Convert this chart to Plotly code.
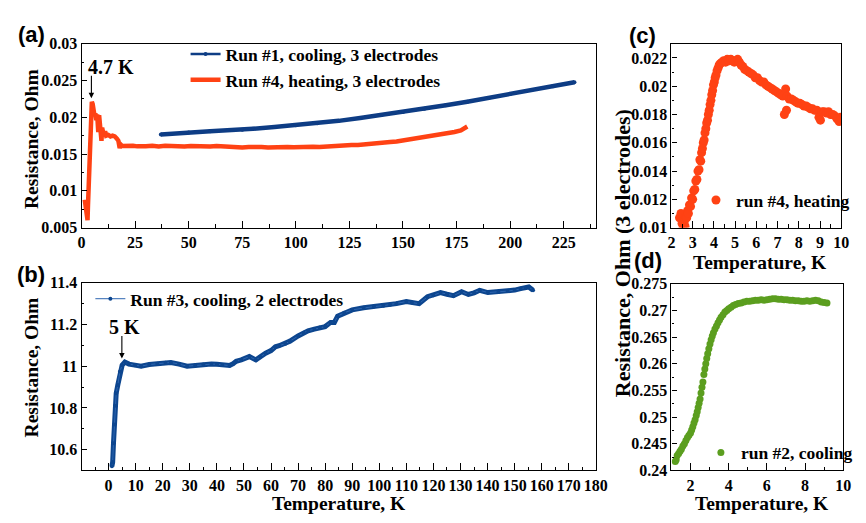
import plotly.graph_objects as go

W, H = 866, 523

# ---------------- data ----------------
# Panel (a): Run #1 cooling, 3 electrodes
run1_T = [37, 40, 50, 60, 70, 75, 80, 90, 100, 110, 120, 130, 140, 150, 160, 170, 180, 190, 200, 210, 220, 230]
run1_R = [0.01765, 0.01772, 0.01795, 0.01812, 0.01826, 0.01832, 0.01845, 0.01868, 0.01893, 0.01920, 0.01952,
          0.01990, 0.02030, 0.02073, 0.02118, 0.02163, 0.02212, 0.02263, 0.02316, 0.02370, 0.02423, 0.02478]

# Panel (a): Run #4 heating, 3 electrodes
run4_T = [1.5, 1.8, 2.0, 2.3, 2.6, 2.8, 3.0, 3.3, 3.7, 4.1, 4.5, 4.8, 5.2, 5.6, 6.0, 6.5, 6.9, 7.3, 7.8, 8.2,
          8.6, 9.0, 9.3, 9.6, 10.0, 10.5, 11.0, 11.5, 12.5, 13.5, 14.5, 15.5, 16.5, 17.2, 17.8, 18.3, 19, 20,
          22, 24, 26, 28, 30, 33, 36, 39, 42, 45, 48, 51, 54, 57, 60, 63, 66, 69, 72, 75, 78, 81, 84, 87, 90,
          93, 96, 99, 102, 105, 108, 111, 114, 117, 120, 123, 126, 129, 132, 135, 138, 141, 144, 147, 150,
          153, 156, 159, 162, 165, 168, 171, 174, 177, 180]
run4_R = [0.0088, 0.0078, 0.0085, 0.0068, 0.0062, 0.0060, 0.0080, 0.0110, 0.0150, 0.0190, 0.0218, 0.0221,
          0.0218, 0.0210, 0.0203, 0.0205, 0.0196, 0.0204, 0.0180, 0.0203, 0.0184, 0.0182, 0.0168, 0.0186,
          0.0178, 0.0174, 0.0181, 0.0175, 0.0176, 0.0174, 0.0175, 0.0174, 0.0171, 0.0168, 0.0158, 0.0163,
          0.0161, 0.01612, 0.01605, 0.01614, 0.01605, 0.01613, 0.01606, 0.01612, 0.01604, 0.01612, 0.01606,
          0.01611, 0.01603, 0.01610, 0.01604, 0.01611, 0.01603, 0.01609, 0.01602, 0.01606, 0.01596, 0.01590,
          0.01597, 0.01589, 0.01596, 0.01590, 0.01597, 0.01589, 0.01597, 0.01592, 0.01598, 0.01593, 0.01601,
          0.01598, 0.01605, 0.01603, 0.01612, 0.01614, 0.01622, 0.01624, 0.01635, 0.01638, 0.01648, 0.01654,
          0.01664, 0.01670, 0.01685, 0.01692, 0.01708, 0.01716, 0.01735, 0.01745, 0.01765, 0.01776, 0.01800,
          0.01822, 0.01875]

# Panel (b): Run #3 cooling, 2 electrodes
run3_T = [1.2, 1.5, 1.8, 2.1, 2.4, 2.8, 3.4, 4.2, 5.0, 6.0, 7.5, 9.7, 12, 15, 18, 21, 23, 26, 29, 32, 35, 38,
          40, 42, 44.7, 46, 47.1, 49, 52, 54.4, 56, 58, 60, 61.6, 63, 65.3, 67, 70, 72, 73.7, 76, 78, 80, 82,
          83.4, 84.6, 87, 90, 94.2, 98, 101.5, 104, 106.3, 110, 112, 114.7, 117.8, 120, 122.6, 125, 127.4,
          130.4, 132.9, 135, 137.1, 140.1, 144, 147.4, 150, 152.2, 154, 155.2, 156.8]
run3_R = [10.52, 10.54, 10.63, 10.72, 10.81, 10.87, 10.91, 10.975, 11.005, 11.02, 11.01, 11.005, 11.0, 11.008,
          11.012, 11.016, 11.018, 11.01, 11.0, 11.003, 11.008, 11.01, 11.009, 11.006, 11.003, 11.012, 11.023,
          11.03, 11.046, 11.03, 11.045, 11.062, 11.075, 11.093, 11.098, 11.108, 11.12, 11.145, 11.16, 11.17,
          11.178, 11.186, 11.19, 11.21, 11.21, 11.24, 11.256, 11.27, 11.28, 11.286, 11.29, 11.295, 11.30,
          11.31, 11.305, 11.30, 11.333, 11.34, 11.353, 11.345, 11.338, 11.357, 11.344, 11.352, 11.364,
          11.353, 11.356, 11.36, 11.365, 11.372, 11.375, 11.38, 11.364]

# Panel (c): run #4, heating (low-T zoom)
c_T = [2.38, 2.45, 2.50, 2.55, 2.60, 2.64, 2.68, 2.72, 2.76, 2.80, 2.85, 2.90, 2.95, 3.00, 3.05, 3.10, 3.15,
       3.20, 3.25, 3.30, 3.34, 3.38, 3.42, 3.46, 3.50, 3.54, 3.58, 3.62, 3.66, 3.70, 3.74, 3.78, 3.82, 3.86,
       3.90, 3.94, 3.98, 4.02, 4.06, 4.10, 4.15, 4.20, 4.25, 4.30, 4.38, 4.46, 4.55, 4.63, 4.72, 4.80, 4.88,
       4.96, 5.04, 5.12, 5.20, 5.28, 5.36, 5.45, 5.55, 5.65, 5.75, 5.85, 5.95, 6.05, 6.15, 6.25, 6.35, 6.45,
       6.55, 6.65, 6.75, 6.85, 6.95, 7.05, 7.15, 7.25, 7.32, 7.38, 7.42, 7.45, 7.55, 7.65, 7.75, 7.85, 7.95,
       8.05, 8.15, 8.25, 8.35, 8.45, 8.55, 8.65, 8.75, 8.85, 8.95, 9.02, 9.10, 9.20, 9.30, 9.40, 9.50, 9.60,
       9.70, 9.80, 9.90, 9.97]
c_R = [0.0107, 0.0110, 0.0103, 0.0100, 0.0104, 0.0101, 0.0108, 0.0107, 0.0112, 0.0110, 0.0116, 0.0115,
       0.0121, 0.0120, 0.0126, 0.0127, 0.0133, 0.0134, 0.0140, 0.0141, 0.0148, 0.0147, 0.0153, 0.0156,
       0.0160, 0.0162, 0.0167, 0.0170, 0.0174, 0.0176, 0.0180, 0.0183, 0.0187, 0.0190, 0.0194, 0.0197,
       0.0201, 0.0203, 0.0206, 0.0208, 0.0211, 0.0213, 0.0215, 0.0216, 0.0217, 0.0218, 0.0217, 0.0219,
       0.0218, 0.0219, 0.0218, 0.0217, 0.0218, 0.0219, 0.0217, 0.0215, 0.0214, 0.0212, 0.0211, 0.0210,
       0.0209, 0.0208, 0.0206, 0.0206, 0.0204, 0.0203, 0.0203, 0.0201, 0.0200, 0.0199, 0.0198, 0.0197,
       0.0196, 0.0195, 0.0194, 0.0193, 0.0180, 0.0198, 0.0183, 0.0193, 0.0191, 0.0191, 0.0190, 0.0189,
       0.0188, 0.0188, 0.0187, 0.0186, 0.0186, 0.0185, 0.0184, 0.0184, 0.0183, 0.0183, 0.0178, 0.0176,
       0.0182, 0.0182, 0.0181, 0.0182, 0.0180, 0.0180, 0.0179, 0.0177, 0.0175, 0.0178]

# Panel (d): run #2, cooling
d_T = [1.20, 1.25, 1.30, 1.38, 1.45, 1.52, 1.60, 1.68, 1.76, 1.84, 1.92, 2.00, 2.06, 2.12, 2.18, 2.24, 2.30,
       2.35, 2.40, 2.45, 2.50, 2.55, 2.60, 2.65, 2.70, 2.75, 2.80, 2.85, 2.90, 2.96, 3.02, 3.08, 3.14, 3.20,
       3.28, 3.36, 3.44, 3.52, 3.60, 3.70, 3.80, 3.90, 4.00, 4.12, 4.24, 4.36, 4.50, 4.65, 4.80, 4.95, 5.10,
       5.25, 5.40, 5.55, 5.70, 5.85, 6.00, 6.15, 6.30, 6.45, 6.60, 6.75, 6.90, 7.05, 7.20, 7.35, 7.50, 7.65,
       7.80, 7.95, 8.10, 8.25, 8.40, 8.55, 8.70, 8.85, 9.00, 9.15]
d_R = [0.2417, 0.2420, 0.2428, 0.2432, 0.2436, 0.2440, 0.2446, 0.2450, 0.2456, 0.2462, 0.2466, 0.2470,
       0.2476, 0.2482, 0.2489, 0.2495, 0.2503, 0.2510, 0.2518, 0.2526, 0.2534, 0.2545, 0.2556, 0.2566,
       0.2580, 0.2590, 0.2600, 0.2610, 0.2619, 0.2628, 0.2637, 0.2645, 0.2652, 0.2658, 0.2665, 0.2671,
       0.2677, 0.2682, 0.2687, 0.2692, 0.2697, 0.2700, 0.2703, 0.2706, 0.2709, 0.2711, 0.2713, 0.2714,
       0.2716, 0.2717, 0.2717, 0.2718, 0.2719, 0.2719, 0.2720, 0.2719, 0.2720, 0.2721, 0.2722, 0.2722,
       0.2721, 0.2721, 0.2720, 0.2720, 0.2719, 0.2719, 0.2718, 0.2718, 0.2717, 0.2717, 0.2718, 0.2717,
       0.2718, 0.2719, 0.2718, 0.2716, 0.2715, 0.2714]

# tick labels
a_xticks = [0, 25, 50, 75, 100, 125, 150, 175, 200, 225]
a_yticks = [0.005, 0.01, 0.015, 0.02, 0.025, 0.03]
a_yticklabels = ["0.005", "0.01", "0.015", "0.02", "0.025", "0.03"]
b_xticks = list(range(0, 190, 10))
b_yticks = [10.6, 10.8, 11.0, 11.2, 11.4]
b_yticklabels = ["10.6", "10.8", "11", "11.2", "11.4"]
c_xticks = [2, 3, 4, 5, 6, 7, 8, 9, 10]
c_yticks = [0.01, 0.012, 0.014, 0.016, 0.018, 0.02, 0.022]
c_yticklabels = ["0.01", "0.012", "0.014", "0.016", "0.018", "0.02", "0.022"]
d_xticks = [2, 4, 6, 8, 10]
d_yticks = [0.24, 0.245, 0.25, 0.255, 0.26, 0.265, 0.27, 0.275]
d_yticklabels = ["0.24", "0.245", "0.25", "0.255", "0.26", "0.265", "0.27", "0.275"]

# ---------------- styling ----------------
SERIF = "Liberation Serif"
SANS = "Liberation Sans"
NAVY = "#0E3D85"
NAVY_B = "#0D468F"
RED = "#FF4214"
GREEN = "#5B9E1F"


def fx(px):
    return px / W


def fy(py):
    return 1 - py / H


def axis(domain, rng, tickvals, ticktext, minor_dtick, minor_tick0, anchor, ticklen=7):
    return dict(
        domain=domain, range=rng, anchor=anchor,
        tickmode="array", tickvals=tickvals, ticktext=ticktext,
        showline=True, linecolor="black", linewidth=1.2, mirror=True,
        ticks="inside", ticklen=ticklen, tickwidth=1.1, tickcolor="black",
        showgrid=False, zeroline=False,
        tickfont=dict(family=SERIF, size=16, weight="bold", color="black"),
        minor=dict(ticks="inside", ticklen=ticklen * 0.55, tickwidth=1.1, tickcolor="black",
                   dtick=minor_dtick, tick0=minor_tick0, showgrid=False),
    )


fig = go.Figure()

# (a)
fig.add_trace(go.Scatter(x=run1_T, y=run1_R, mode="lines", line=dict(color=NAVY, width=4.5),
                         xaxis="x", yaxis="y", showlegend=False, hoverinfo="skip"))
fig.add_trace(go.Scatter(x=run1_T, y=run1_R, mode="lines+markers", name="Run #1, cooling, 3 electrodes",
                         line=dict(color=NAVY, width=2.5), marker=dict(size=4, color=NAVY),
                         xaxis="x", yaxis="y", legend="legend"))
fig.add_trace(go.Scatter(x=run4_T, y=run4_R, mode="lines", name="Run #4, heating, 3 electrodes",
                         line=dict(color=RED, width=4.5), xaxis="x", yaxis="y", legend="legend"))
# (b)
fig.add_trace(go.Scatter(x=run3_T, y=run3_R, mode="lines", line=dict(color=NAVY_B, width=5),
                         xaxis="x2", yaxis="y2", showlegend=False, hoverinfo="skip"))
fig.add_trace(go.Scatter(x=run3_T, y=run3_R, mode="lines+markers", name="Run #3, cooling, 2 electrodes",
                         line=dict(color="#2D65B0", width=1), marker=dict(size=4, color=NAVY_B),
                         xaxis="x2", yaxis="y2", legend="legend2"))
# (c)
fig.add_trace(go.Scatter(x=c_T, y=c_R, mode="markers", name="run #4, heating",
                         marker=dict(size=9, color=RED), xaxis="x3", yaxis="y3", legend="legend3"))
# (d)
fig.add_trace(go.Scatter(x=d_T, y=d_R, mode="markers", name="run #2, cooling",
                         marker=dict(size=7, color=GREEN), xaxis="x4", yaxis="y4", legend="legend4"))

legfont = dict(family=SERIF, size=17.5, weight="bold", color="black")

fig.update_layout(
    width=W, height=H, margin=dict(l=0, r=0, t=0, b=0),
    paper_bgcolor="white", plot_bgcolor="white",
    xaxis=axis([fx(79), fx(603)], [0, 240], a_xticks, [str(v) for v in a_xticks], 12.5, 0, "y"),
    yaxis=axis([fy(227), fy(37)], [0.005, 0.03], a_yticks, a_yticklabels, 0.0025, 0.005, "x", ticklen=5),
    xaxis2=axis([fx(79), fx(603)], [-10, 180], b_xticks, [str(v) for v in b_xticks], 5, 0, "y2"),
    yaxis2=axis([fy(478), fy(284)], [10.5, 11.4], b_yticks, b_yticklabels, 0.1, 10.5, "x2", ticklen=5),
    xaxis3=axis([fx(680), fx(853)], [2, 10], c_xticks, [str(v) for v in c_xticks], 0.5, 2, "y3"),
    yaxis3=axis([fy(227), fy(37)], [0.01, 0.023], c_yticks, c_yticklabels, 0.001, 0.01, "x3", ticklen=5),
    xaxis4=axis([fx(680), fx(855)], [1, 10], d_xticks, [str(v) for v in d_xticks], 1, 1, "y4"),
    yaxis4=axis([fy(478), fy(285)], [0.24, 0.275], d_yticks, d_yticklabels, 0.0025, 0.24, "x4", ticklen=5),
    legend=dict(x=fx(185), y=fy(29), xanchor="left", yanchor="top", font=legfont,
                bgcolor="rgba(0,0,0,0)", itemwidth=30, tracegroupgap=0),
    legend2=dict(x=fx(88), y=fy(282), xanchor="left", yanchor="top", font=legfont,
                 bgcolor="rgba(0,0,0,0)", itemwidth=30),
    legend3=dict(x=fx(705), y=fy(180), xanchor="left", yanchor="top", font=legfont,
                 bgcolor="rgba(0,0,0,0)", itemwidth=30),
    legend4=dict(x=fx(710), y=fy(441), xanchor="left", yanchor="top", font=legfont,
                 bgcolor="rgba(0,0,0,0)", itemwidth=30),
)

ann = []


def text(s, x, y, size, family=SERIF, angle=0):
    ann.append(dict(text=s, x=fx(x), y=fy(y), xref="paper", yref="paper", showarrow=False,
                    xanchor="center", yanchor="middle", textangle=angle,
                    font=dict(family=family, size=size, weight="bold", color="black")))


text("(a)", 28, 27, 22, SANS)
text("(b)", 28, 275, 22, SANS)
text("(c)", 651, 28, 22, SANS)
text("(d)", 656, 261, 22, SANS)
text("Resistance, Ohm", 28, 135, 19.5, angle=-90)
text("Resistance, Ohm", 28, 371, 19.5, angle=-90)
text("Temperature, K", 341, 512, 19.5)
text("Temperature, K", 770, 263, 19.5)
text("Temperature, K", 772, 512, 19.5)
text("Resistance, Ohm (3 electrodes)", 630, 253, 22, angle=-90)
text("4.7 K", 109, 61, 20)
text("5 K", 123, 330, 20)

# arrows pointing at the peaks
ann.append(dict(text="", x=4.6, y=0.0226, xref="x", yref="y", showarrow=True, ax=0, ay=-24,
                arrowhead=2, arrowsize=1, arrowwidth=1.1, arrowcolor="black"))
ann.append(dict(text="", x=4.9, y=11.037, xref="x2", yref="y2", showarrow=True, ax=0, ay=-24,
                arrowhead=2, arrowsize=1, arrowwidth=1.1, arrowcolor="black"))

fig.update_layout(annotations=ann)

fig.write_html("out.html", config={"displayModeBar": False},
               post_script="document.body.style.margin='0';")
